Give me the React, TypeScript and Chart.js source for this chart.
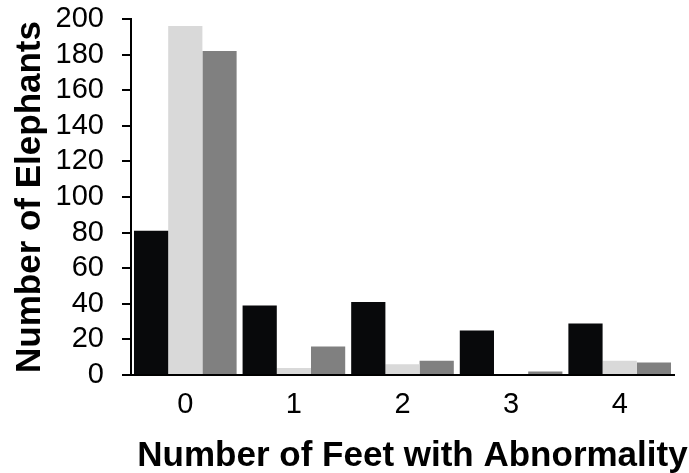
import React, { useEffect, useRef } from "react";
import { Chart, registerables } from "chart.js";

Chart.register(...registerables);

const categories = ["0", "1", "2", "3", "4"];
const seriesA = [81, 39, 41, 25, 29];
const seriesB = [196, 4, 6, 0, 8];
const seriesC = [182, 16, 8, 2, 7];
const yTicks = [0, 20, 40, 60, 80, 100, 120, 140, 160, 180, 200];
const xTitle = "Number of Feet with Abnormality";
const yTitle = "Number of Elephants";

const FONT = "'Liberation Sans', Arial, sans-serif";

const xTitlePlugin = {
  id: "xTitleShifted",
  afterDraw(chart: any) {
    const x = chart.scales.x;
    const ctx = chart.ctx;
    ctx.save();
    ctx.font = `bold 35px ${FONT}`;
    ctx.fillStyle = "#000";
    ctx.textAlign = "center";
    ctx.textBaseline = "middle";
    // title sits slightly right of the axis centre, as in the reference
    ctx.fillText(xTitle, (x.left + x.right) / 2 + 10, x.bottom - 17);
    ctx.restore();
  },
};

export default function App() {
  const ref = useRef<HTMLCanvasElement>(null);
  useEffect(() => {
    if (!ref.current) return;
    const chart = new Chart(ref.current, {
      type: "bar",
      data: {
        labels: categories,
        datasets: [
          { label: "A", data: seriesA, backgroundColor: "#08090b" },
          { label: "B", data: seriesB, backgroundColor: "#d9d9d9" },
          { label: "C", data: seriesC, backgroundColor: "#808080" },
        ],
      },
      plugins: [xTitlePlugin],
      options: {
        responsive: false,
        animation: false,
        layout: { padding: { top: 19, right: 15, left: 0, bottom: 0 } },
        plugins: { legend: { display: false }, tooltip: { enabled: false } },
        datasets: { bar: { categoryPercentage: 0.945, barPercentage: 1 } },
        scales: {
          x: {
            grid: { display: false },
            border: { display: true, color: "#000", width: 2 },
            ticks: { color: "#000", font: { family: FONT, size: 29, lineHeight: 1 }, padding: 7 },
            title: { display: false },
            afterFit: (s: any) => { s.height = 98; s.paddingLeft = 0; s.paddingRight = 0; },
          },
          y: {
            min: 0,
            max: 200,
            afterBuildTicks: (s: any) => { s.ticks = yTicks.map((v) => ({ value: v })); },
            grid: { drawOnChartArea: false, color: "#000", lineWidth: 2, tickLength: 9 },
            border: { display: true, color: "#000", width: 2 },
            ticks: { color: "#000", font: { family: FONT, size: 29, lineHeight: 1 }, padding: 18, autoSkip: false },
            title: {
              display: true,
              text: yTitle,
              color: "#000",
              font: { family: FONT, size: 35, weight: "bold", lineHeight: 1.1 },
              padding: { top: 11, bottom: 0 },
            },
            afterFit: (s: any) => { s.width = 131; s.paddingTop = 0; s.paddingBottom = 0; },
          },
        },
      },
    });
    return () => chart.destroy();
  }, []);
  return (
    <canvas
      ref={ref}
      width={689}
      height={473}
      style={{ position: "absolute", left: 0, top: 0, width: 689, height: 473 }}
    />
  );
}
